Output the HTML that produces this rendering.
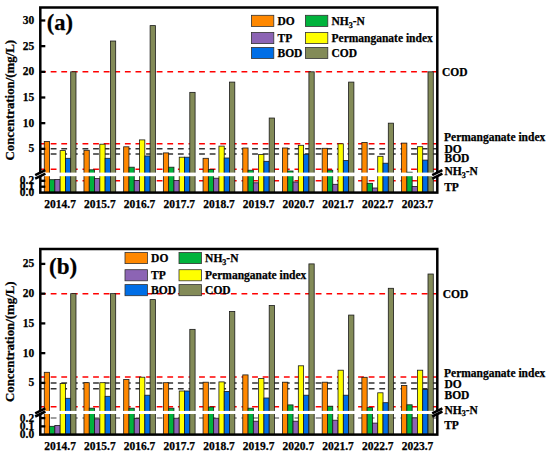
<!DOCTYPE html>
<html><head><meta charset="utf-8"><title>Chart</title>
<style>html,body{margin:0;padding:0;background:#fff;overflow:hidden;width:550px;height:458px}svg{display:block}</style>
</head><body>
<svg width="550" height="458" viewBox="0 0 550 458">
<style>
text{font-family:"Liberation Serif", serif;font-weight:bold;fill:#000;stroke:#000;stroke-width:0.25px}
.t{font-size:11.5px}
.r{font-size:11.5px}
.sub{font-size:8px}
.ttl{font-size:12.85px}
.pl{font-size:23.5px}
</style>
<rect width="550" height="458" fill="#fff"/>
<line x1="40.1" y1="71.82" x2="437.3" y2="71.82" stroke="#FF0000" stroke-width="1.5" stroke-dasharray="5.8 4.8"/>
<line x1="40.1" y1="143.7" x2="437.3" y2="143.7" stroke="#FF0000" stroke-width="1.5" stroke-dasharray="5.8 4.8"/>
<line x1="40.1" y1="148.83" x2="437.3" y2="148.83" stroke="#333333" stroke-width="1.5" stroke-dasharray="5.8 4.8"/>
<line x1="40.1" y1="153.96" x2="437.3" y2="153.96" stroke="#333333" stroke-width="1.5" stroke-dasharray="5.8 4.8"/>
<line x1="40.1" y1="169.37" x2="437.3" y2="169.37" stroke="#FF0000" stroke-width="1.5" stroke-dasharray="5.8 4.8"/>
<line x1="40.1" y1="180.8" x2="437.3" y2="180.8" stroke="#FF0000" stroke-width="1.5" stroke-dasharray="5.8 4.8"/>
<rect x="44.27" y="141.5" width="5.29" height="51.1" fill="#FF8800" stroke="#1a1a1a" stroke-width="0.8"/>
<rect x="49.56" y="179.7" width="5.29" height="12.9" fill="#00B33C" stroke="#1a1a1a" stroke-width="0.8"/>
<rect x="54.84" y="179.4" width="5.29" height="13.2" fill="#8C64B4" stroke="#1a1a1a" stroke-width="0.8"/>
<rect x="60.13" y="150.6" width="5.29" height="42" fill="#FFFF00" stroke="#1a1a1a" stroke-width="0.8"/>
<rect x="65.42" y="158.3" width="5.29" height="34.3" fill="#006EE6" stroke="#1a1a1a" stroke-width="0.8"/>
<rect x="70.7" y="71.82" width="5.29" height="120.78" fill="#838B58" stroke="#1a1a1a" stroke-width="0.8"/>
<rect x="83.97" y="150.3" width="5.29" height="42.3" fill="#FF8800" stroke="#1a1a1a" stroke-width="0.8"/>
<rect x="89.26" y="169.8" width="5.29" height="22.8" fill="#00B33C" stroke="#1a1a1a" stroke-width="0.8"/>
<rect x="94.54" y="178.6" width="5.29" height="14" fill="#8C64B4" stroke="#1a1a1a" stroke-width="0.8"/>
<rect x="99.83" y="144.2" width="5.29" height="48.4" fill="#FFFF00" stroke="#1a1a1a" stroke-width="0.8"/>
<rect x="105.12" y="158.3" width="5.29" height="34.3" fill="#006EE6" stroke="#1a1a1a" stroke-width="0.8"/>
<rect x="110.4" y="41.02" width="5.29" height="151.58" fill="#838B58" stroke="#1a1a1a" stroke-width="0.8"/>
<rect x="123.67" y="146.8" width="5.29" height="45.8" fill="#FF8800" stroke="#1a1a1a" stroke-width="0.8"/>
<rect x="128.96" y="167.2" width="5.29" height="25.4" fill="#00B33C" stroke="#1a1a1a" stroke-width="0.8"/>
<rect x="134.24" y="180.5" width="5.29" height="12.1" fill="#8C64B4" stroke="#1a1a1a" stroke-width="0.8"/>
<rect x="139.53" y="139.9" width="5.29" height="52.7" fill="#FFFF00" stroke="#1a1a1a" stroke-width="0.8"/>
<rect x="144.82" y="156" width="5.29" height="36.6" fill="#006EE6" stroke="#1a1a1a" stroke-width="0.8"/>
<rect x="150.1" y="25.61" width="5.29" height="166.99" fill="#838B58" stroke="#1a1a1a" stroke-width="0.8"/>
<rect x="163.37" y="152.9" width="5.29" height="39.7" fill="#FF8800" stroke="#1a1a1a" stroke-width="0.8"/>
<rect x="168.66" y="167.2" width="5.29" height="25.4" fill="#00B33C" stroke="#1a1a1a" stroke-width="0.8"/>
<rect x="173.94" y="180.5" width="5.29" height="12.1" fill="#8C64B4" stroke="#1a1a1a" stroke-width="0.8"/>
<rect x="179.23" y="157.2" width="5.29" height="35.4" fill="#FFFF00" stroke="#1a1a1a" stroke-width="0.8"/>
<rect x="184.52" y="157.2" width="5.29" height="35.4" fill="#006EE6" stroke="#1a1a1a" stroke-width="0.8"/>
<rect x="189.8" y="92.36" width="5.29" height="100.24" fill="#838B58" stroke="#1a1a1a" stroke-width="0.8"/>
<rect x="203.07" y="158.3" width="5.29" height="34.3" fill="#FF8800" stroke="#1a1a1a" stroke-width="0.8"/>
<rect x="208.36" y="169.4" width="5.29" height="23.2" fill="#00B33C" stroke="#1a1a1a" stroke-width="0.8"/>
<rect x="213.64" y="178.2" width="5.29" height="14.4" fill="#8C64B4" stroke="#1a1a1a" stroke-width="0.8"/>
<rect x="218.93" y="146.1" width="5.29" height="46.5" fill="#FFFF00" stroke="#1a1a1a" stroke-width="0.8"/>
<rect x="224.22" y="158" width="5.29" height="34.6" fill="#006EE6" stroke="#1a1a1a" stroke-width="0.8"/>
<rect x="229.5" y="82.09" width="5.29" height="110.51" fill="#838B58" stroke="#1a1a1a" stroke-width="0.8"/>
<rect x="242.77" y="148" width="5.29" height="44.6" fill="#FF8800" stroke="#1a1a1a" stroke-width="0.8"/>
<rect x="248.06" y="170.2" width="5.29" height="22.4" fill="#00B33C" stroke="#1a1a1a" stroke-width="0.8"/>
<rect x="253.34" y="182.8" width="5.29" height="9.8" fill="#8C64B4" stroke="#1a1a1a" stroke-width="0.8"/>
<rect x="258.63" y="154.5" width="5.29" height="38.1" fill="#FFFF00" stroke="#1a1a1a" stroke-width="0.8"/>
<rect x="263.92" y="161.3" width="5.29" height="31.3" fill="#006EE6" stroke="#1a1a1a" stroke-width="0.8"/>
<rect x="269.2" y="118.03" width="5.29" height="74.57" fill="#838B58" stroke="#1a1a1a" stroke-width="0.8"/>
<rect x="282.47" y="148" width="5.29" height="44.6" fill="#FF8800" stroke="#1a1a1a" stroke-width="0.8"/>
<rect x="287.76" y="171" width="5.29" height="21.6" fill="#00B33C" stroke="#1a1a1a" stroke-width="0.8"/>
<rect x="293.04" y="182" width="5.29" height="10.6" fill="#8C64B4" stroke="#1a1a1a" stroke-width="0.8"/>
<rect x="298.33" y="145.3" width="5.29" height="47.3" fill="#FFFF00" stroke="#1a1a1a" stroke-width="0.8"/>
<rect x="303.62" y="154.2" width="5.29" height="38.4" fill="#006EE6" stroke="#1a1a1a" stroke-width="0.8"/>
<rect x="308.9" y="71.82" width="5.29" height="120.78" fill="#838B58" stroke="#1a1a1a" stroke-width="0.8"/>
<rect x="322.17" y="148.3" width="5.29" height="44.3" fill="#FF8800" stroke="#1a1a1a" stroke-width="0.8"/>
<rect x="327.46" y="170.2" width="5.29" height="22.4" fill="#00B33C" stroke="#1a1a1a" stroke-width="0.8"/>
<rect x="332.74" y="184.3" width="5.29" height="8.3" fill="#8C64B4" stroke="#1a1a1a" stroke-width="0.8"/>
<rect x="338.03" y="143.8" width="5.29" height="48.8" fill="#FFFF00" stroke="#1a1a1a" stroke-width="0.8"/>
<rect x="343.32" y="160.6" width="5.29" height="32" fill="#006EE6" stroke="#1a1a1a" stroke-width="0.8"/>
<rect x="348.6" y="82.09" width="5.29" height="110.51" fill="#838B58" stroke="#1a1a1a" stroke-width="0.8"/>
<rect x="361.87" y="142.4" width="5.29" height="50.2" fill="#FF8800" stroke="#1a1a1a" stroke-width="0.8"/>
<rect x="367.16" y="183.3" width="5.29" height="9.3" fill="#00B33C" stroke="#1a1a1a" stroke-width="0.8"/>
<rect x="372.44" y="188" width="5.29" height="4.6" fill="#8C64B4" stroke="#1a1a1a" stroke-width="0.8"/>
<rect x="377.73" y="156.3" width="5.29" height="36.3" fill="#FFFF00" stroke="#1a1a1a" stroke-width="0.8"/>
<rect x="383.02" y="163.2" width="5.29" height="29.4" fill="#006EE6" stroke="#1a1a1a" stroke-width="0.8"/>
<rect x="388.3" y="123.16" width="5.29" height="69.44" fill="#838B58" stroke="#1a1a1a" stroke-width="0.8"/>
<rect x="401.57" y="143.1" width="5.29" height="49.5" fill="#FF8800" stroke="#1a1a1a" stroke-width="0.8"/>
<rect x="406.86" y="172.2" width="5.29" height="20.4" fill="#00B33C" stroke="#1a1a1a" stroke-width="0.8"/>
<rect x="412.14" y="186.4" width="5.29" height="6.2" fill="#8C64B4" stroke="#1a1a1a" stroke-width="0.8"/>
<rect x="417.43" y="146.7" width="5.29" height="45.9" fill="#FFFF00" stroke="#1a1a1a" stroke-width="0.8"/>
<rect x="422.72" y="160.1" width="5.29" height="32.5" fill="#006EE6" stroke="#1a1a1a" stroke-width="0.8"/>
<rect x="428" y="71.82" width="5.29" height="120.78" fill="#838B58" stroke="#1a1a1a" stroke-width="0.8"/>
<rect x="41.3" y="172.6" width="395" height="3.6" fill="#fff"/>
<rect x="40.3" y="7.5" width="397" height="185.1" fill="none" stroke="#000" stroke-width="2.5"/>
<line x1="40.3" y1="20.48" x2="45.3" y2="20.48" stroke="#000" stroke-width="2.3"/>
<text x="34.2" y="23.98" text-anchor="end" class="t">30</text>
<line x1="40.3" y1="46.15" x2="45.3" y2="46.15" stroke="#000" stroke-width="2.3"/>
<text x="34.2" y="49.65" text-anchor="end" class="t">25</text>
<line x1="40.3" y1="71.82" x2="45.3" y2="71.82" stroke="#000" stroke-width="2.3"/>
<text x="34.2" y="75.32" text-anchor="end" class="t">20</text>
<line x1="40.3" y1="97.49" x2="45.3" y2="97.49" stroke="#000" stroke-width="2.3"/>
<text x="34.2" y="100.99" text-anchor="end" class="t">15</text>
<line x1="40.3" y1="123.16" x2="45.3" y2="123.16" stroke="#000" stroke-width="2.3"/>
<text x="34.2" y="126.66" text-anchor="end" class="t">10</text>
<line x1="40.3" y1="148.83" x2="45.3" y2="148.83" stroke="#000" stroke-width="2.3"/>
<text x="34.2" y="152.33" text-anchor="end" class="t">5</text>
<line x1="40.3" y1="180.8" x2="45.3" y2="180.8" stroke="#000" stroke-width="2.3"/>
<text x="34.2" y="184.3" text-anchor="end" class="t">0.2</text>
<line x1="40.3" y1="186.7" x2="45.3" y2="186.7" stroke="#000" stroke-width="2.3"/>
<text x="34.2" y="190.2" text-anchor="end" class="t">0.1</text>
<text x="34.2" y="196.1" text-anchor="end" class="t">0.0</text>
<polygon points="35.2,175.1 45.4,170.1 45.4,173.7 35.2,178.7" fill="#fff"/>
<line x1="35.2" y1="175.1" x2="45.4" y2="170.1" stroke="#000" stroke-width="2.6"/>
<line x1="35.2" y1="178.7" x2="45.4" y2="173.7" stroke="#000" stroke-width="2.6"/>
<polygon points="432.2,175.1 442.4,170.1 442.4,173.7 432.2,178.7" fill="#fff"/>
<line x1="432.2" y1="175.1" x2="442.4" y2="170.1" stroke="#000" stroke-width="2.6"/>
<line x1="432.2" y1="178.7" x2="442.4" y2="173.7" stroke="#000" stroke-width="2.6"/>
<text x="60.15" y="207.9" text-anchor="middle" class="t">2014.7</text>
<text x="99.85" y="207.9" text-anchor="middle" class="t">2015.7</text>
<text x="139.55" y="207.9" text-anchor="middle" class="t">2016.7</text>
<text x="179.25" y="207.9" text-anchor="middle" class="t">2017.7</text>
<text x="218.95" y="207.9" text-anchor="middle" class="t">2018.7</text>
<text x="258.65" y="207.9" text-anchor="middle" class="t">2019.7</text>
<text x="298.35" y="207.9" text-anchor="middle" class="t">2020.7</text>
<text x="338.05" y="207.9" text-anchor="middle" class="t">2021.7</text>
<text x="377.75" y="207.9" text-anchor="middle" class="t">2022.7</text>
<text x="417.45" y="207.9" text-anchor="middle" class="t">2023.7</text>
<text transform="translate(14.1,100.2) rotate(-90)" text-anchor="middle" class="ttl">Concentration/(mg/L)</text>
<text x="46.8" y="29.8" class="pl" style="font-size:22.5px">(a)</text>
<rect x="251.4" y="15.3" width="22.4" height="11.1" fill="#FF8800" stroke="#333" stroke-width="0.8"/>
<text x="277.5" y="25.2" class="t">DO</text>
<rect x="305.4" y="15.3" width="22.4" height="11.1" fill="#00B33C" stroke="#333" stroke-width="0.8"/>
<text x="331.5" y="25.2" class="t">NH<tspan class="sub" dy="2.8">3</tspan><tspan dy="-2.8">-N</tspan></text>
<rect x="251.4" y="32.5" width="22.4" height="11.1" fill="#8C64B4" stroke="#333" stroke-width="0.8"/>
<text x="277.5" y="42.2" class="t">TP</text>
<rect x="305.4" y="32.5" width="22.4" height="11.1" fill="#FFFF00" stroke="#333" stroke-width="0.8"/>
<text x="331.5" y="42.2" class="t">Permanganate index</text>
<rect x="251.4" y="47.4" width="22.4" height="11.1" fill="#006EE6" stroke="#333" stroke-width="0.8"/>
<text x="277.5" y="56.9" class="t">BOD</text>
<rect x="305.4" y="47.4" width="22.4" height="11.1" fill="#838B58" stroke="#333" stroke-width="0.8"/>
<text x="331.5" y="56.9" class="t">COD</text>
<text x="442.0" y="76.3" class="r">COD</text>
<text x="444.0" y="141.3" class="r">Permanganate index</text>
<text x="444.5" y="152.7" class="r">DO</text>
<text x="444.5" y="162.1" class="r">BOD</text>
<text x="444.5" y="175.2" class="r">NH<tspan class="sub" dy="2.8">3</tspan><tspan dy="-2.8">-N</tspan></text>
<text x="444.2" y="190.5" class="r">TP</text>
<line x1="40.1" y1="293.65" x2="437.3" y2="293.65" stroke="#FF0000" stroke-width="1.5" stroke-dasharray="5.8 4.8"/>
<line x1="40.1" y1="376.95" x2="437.3" y2="376.95" stroke="#FF0000" stroke-width="1.5" stroke-dasharray="5.8 4.8"/>
<line x1="40.1" y1="382.9" x2="437.3" y2="382.9" stroke="#333333" stroke-width="1.5" stroke-dasharray="5.8 4.8"/>
<line x1="40.1" y1="388.85" x2="437.3" y2="388.85" stroke="#333333" stroke-width="1.5" stroke-dasharray="5.8 4.8"/>
<line x1="40.1" y1="406.7" x2="437.3" y2="406.7" stroke="#FF0000" stroke-width="1.5" stroke-dasharray="5.8 4.8"/>
<line x1="40.1" y1="418.1" x2="437.3" y2="418.1" stroke="#808080" stroke-width="1.5" stroke-dasharray="5.8 4.8"/>
<rect x="44.27" y="372.3" width="5.29" height="62.3" fill="#FF8800" stroke="#1a1a1a" stroke-width="0.8"/>
<rect x="49.56" y="426.3" width="5.29" height="8.3" fill="#00B33C" stroke="#1a1a1a" stroke-width="0.8"/>
<rect x="54.84" y="425.4" width="5.29" height="9.2" fill="#8C64B4" stroke="#1a1a1a" stroke-width="0.8"/>
<rect x="60.13" y="383.5" width="5.29" height="51.1" fill="#FFFF00" stroke="#1a1a1a" stroke-width="0.8"/>
<rect x="65.42" y="398.3" width="5.29" height="36.3" fill="#006EE6" stroke="#1a1a1a" stroke-width="0.8"/>
<rect x="70.7" y="293.65" width="5.29" height="140.95" fill="#838B58" stroke="#1a1a1a" stroke-width="0.8"/>
<rect x="83.97" y="382.7" width="5.29" height="51.9" fill="#FF8800" stroke="#1a1a1a" stroke-width="0.8"/>
<rect x="89.26" y="408.2" width="5.29" height="26.4" fill="#00B33C" stroke="#1a1a1a" stroke-width="0.8"/>
<rect x="94.54" y="418.9" width="5.29" height="15.7" fill="#8C64B4" stroke="#1a1a1a" stroke-width="0.8"/>
<rect x="99.83" y="382.7" width="5.29" height="51.9" fill="#FFFF00" stroke="#1a1a1a" stroke-width="0.8"/>
<rect x="105.12" y="396.3" width="5.29" height="38.3" fill="#006EE6" stroke="#1a1a1a" stroke-width="0.8"/>
<rect x="110.4" y="293.65" width="5.29" height="140.95" fill="#838B58" stroke="#1a1a1a" stroke-width="0.8"/>
<rect x="123.67" y="379.5" width="5.29" height="55.1" fill="#FF8800" stroke="#1a1a1a" stroke-width="0.8"/>
<rect x="128.96" y="408.2" width="5.29" height="26.4" fill="#00B33C" stroke="#1a1a1a" stroke-width="0.8"/>
<rect x="134.24" y="418.6" width="5.29" height="16" fill="#8C64B4" stroke="#1a1a1a" stroke-width="0.8"/>
<rect x="139.53" y="377.2" width="5.29" height="57.4" fill="#FFFF00" stroke="#1a1a1a" stroke-width="0.8"/>
<rect x="144.82" y="395.2" width="5.29" height="39.4" fill="#006EE6" stroke="#1a1a1a" stroke-width="0.8"/>
<rect x="150.1" y="299.6" width="5.29" height="135" fill="#838B58" stroke="#1a1a1a" stroke-width="0.8"/>
<rect x="163.37" y="382.7" width="5.29" height="51.9" fill="#FF8800" stroke="#1a1a1a" stroke-width="0.8"/>
<rect x="168.66" y="408.2" width="5.29" height="26.4" fill="#00B33C" stroke="#1a1a1a" stroke-width="0.8"/>
<rect x="173.94" y="418.2" width="5.29" height="16.4" fill="#8C64B4" stroke="#1a1a1a" stroke-width="0.8"/>
<rect x="179.23" y="391" width="5.29" height="43.6" fill="#FFFF00" stroke="#1a1a1a" stroke-width="0.8"/>
<rect x="184.52" y="391" width="5.29" height="43.6" fill="#006EE6" stroke="#1a1a1a" stroke-width="0.8"/>
<rect x="189.8" y="329.35" width="5.29" height="105.25" fill="#838B58" stroke="#1a1a1a" stroke-width="0.8"/>
<rect x="203.07" y="382.2" width="5.29" height="52.4" fill="#FF8800" stroke="#1a1a1a" stroke-width="0.8"/>
<rect x="208.36" y="407" width="5.29" height="27.6" fill="#00B33C" stroke="#1a1a1a" stroke-width="0.8"/>
<rect x="213.64" y="418.2" width="5.29" height="16.4" fill="#8C64B4" stroke="#1a1a1a" stroke-width="0.8"/>
<rect x="218.93" y="381.9" width="5.29" height="52.7" fill="#FFFF00" stroke="#1a1a1a" stroke-width="0.8"/>
<rect x="224.22" y="391.4" width="5.29" height="43.2" fill="#006EE6" stroke="#1a1a1a" stroke-width="0.8"/>
<rect x="229.5" y="311.5" width="5.29" height="123.1" fill="#838B58" stroke="#1a1a1a" stroke-width="0.8"/>
<rect x="242.77" y="374.9" width="5.29" height="59.7" fill="#FF8800" stroke="#1a1a1a" stroke-width="0.8"/>
<rect x="248.06" y="408.2" width="5.29" height="26.4" fill="#00B33C" stroke="#1a1a1a" stroke-width="0.8"/>
<rect x="253.34" y="421.2" width="5.29" height="13.4" fill="#8C64B4" stroke="#1a1a1a" stroke-width="0.8"/>
<rect x="258.63" y="378.4" width="5.29" height="56.2" fill="#FFFF00" stroke="#1a1a1a" stroke-width="0.8"/>
<rect x="263.92" y="398" width="5.29" height="36.6" fill="#006EE6" stroke="#1a1a1a" stroke-width="0.8"/>
<rect x="269.2" y="305.55" width="5.29" height="129.05" fill="#838B58" stroke="#1a1a1a" stroke-width="0.8"/>
<rect x="282.47" y="382.2" width="5.29" height="52.4" fill="#FF8800" stroke="#1a1a1a" stroke-width="0.8"/>
<rect x="287.76" y="404.9" width="5.29" height="29.7" fill="#00B33C" stroke="#1a1a1a" stroke-width="0.8"/>
<rect x="293.04" y="421.2" width="5.29" height="13.4" fill="#8C64B4" stroke="#1a1a1a" stroke-width="0.8"/>
<rect x="298.33" y="365.8" width="5.29" height="68.8" fill="#FFFF00" stroke="#1a1a1a" stroke-width="0.8"/>
<rect x="303.62" y="395.2" width="5.29" height="39.4" fill="#006EE6" stroke="#1a1a1a" stroke-width="0.8"/>
<rect x="308.9" y="263.9" width="5.29" height="170.7" fill="#838B58" stroke="#1a1a1a" stroke-width="0.8"/>
<rect x="322.17" y="382.2" width="5.29" height="52.4" fill="#FF8800" stroke="#1a1a1a" stroke-width="0.8"/>
<rect x="327.46" y="406.2" width="5.29" height="28.4" fill="#00B33C" stroke="#1a1a1a" stroke-width="0.8"/>
<rect x="332.74" y="420.2" width="5.29" height="14.4" fill="#8C64B4" stroke="#1a1a1a" stroke-width="0.8"/>
<rect x="338.03" y="370.2" width="5.29" height="64.4" fill="#FFFF00" stroke="#1a1a1a" stroke-width="0.8"/>
<rect x="343.32" y="395.2" width="5.29" height="39.4" fill="#006EE6" stroke="#1a1a1a" stroke-width="0.8"/>
<rect x="348.6" y="315.07" width="5.29" height="119.53" fill="#838B58" stroke="#1a1a1a" stroke-width="0.8"/>
<rect x="361.87" y="377.3" width="5.29" height="57.3" fill="#FF8800" stroke="#1a1a1a" stroke-width="0.8"/>
<rect x="367.16" y="407.6" width="5.29" height="27" fill="#00B33C" stroke="#1a1a1a" stroke-width="0.8"/>
<rect x="372.44" y="423.1" width="5.29" height="11.5" fill="#8C64B4" stroke="#1a1a1a" stroke-width="0.8"/>
<rect x="377.73" y="392.8" width="5.29" height="41.8" fill="#FFFF00" stroke="#1a1a1a" stroke-width="0.8"/>
<rect x="383.02" y="402.7" width="5.29" height="31.9" fill="#006EE6" stroke="#1a1a1a" stroke-width="0.8"/>
<rect x="388.3" y="288.29" width="5.29" height="146.31" fill="#838B58" stroke="#1a1a1a" stroke-width="0.8"/>
<rect x="401.57" y="385.5" width="5.29" height="49.1" fill="#FF8800" stroke="#1a1a1a" stroke-width="0.8"/>
<rect x="406.86" y="404.8" width="5.29" height="29.8" fill="#00B33C" stroke="#1a1a1a" stroke-width="0.8"/>
<rect x="412.14" y="417.9" width="5.29" height="16.7" fill="#8C64B4" stroke="#1a1a1a" stroke-width="0.8"/>
<rect x="417.43" y="370.2" width="5.29" height="64.4" fill="#FFFF00" stroke="#1a1a1a" stroke-width="0.8"/>
<rect x="422.72" y="389.6" width="5.29" height="45" fill="#006EE6" stroke="#1a1a1a" stroke-width="0.8"/>
<rect x="428" y="274.01" width="5.29" height="160.59" fill="#838B58" stroke="#1a1a1a" stroke-width="0.8"/>
<rect x="41.3" y="410.9" width="395" height="3.1" fill="#fff"/>
<rect x="40.3" y="249" width="397" height="185.6" fill="none" stroke="#000" stroke-width="2.5"/>
<line x1="40.3" y1="263.9" x2="45.3" y2="263.9" stroke="#000" stroke-width="2.3"/>
<text x="34.2" y="267.4" text-anchor="end" class="t">25</text>
<line x1="40.3" y1="293.65" x2="45.3" y2="293.65" stroke="#000" stroke-width="2.3"/>
<text x="34.2" y="297.15" text-anchor="end" class="t">20</text>
<line x1="40.3" y1="323.4" x2="45.3" y2="323.4" stroke="#000" stroke-width="2.3"/>
<text x="34.2" y="326.9" text-anchor="end" class="t">15</text>
<line x1="40.3" y1="353.15" x2="45.3" y2="353.15" stroke="#000" stroke-width="2.3"/>
<text x="34.2" y="356.65" text-anchor="end" class="t">10</text>
<line x1="40.3" y1="382.9" x2="45.3" y2="382.9" stroke="#000" stroke-width="2.3"/>
<text x="34.2" y="386.4" text-anchor="end" class="t">5</text>
<line x1="40.3" y1="418.1" x2="45.3" y2="418.1" stroke="#000" stroke-width="2.3"/>
<text x="34.2" y="421.6" text-anchor="end" class="t">0.2</text>
<line x1="40.3" y1="426.35" x2="45.3" y2="426.35" stroke="#000" stroke-width="2.3"/>
<text x="34.2" y="429.85" text-anchor="end" class="t">0.1</text>
<text x="34.2" y="438.1" text-anchor="end" class="t">0.0</text>
<polygon points="35.2,413.4 45.4,408.4 45.4,411.5 35.2,416.5" fill="#fff"/>
<line x1="35.2" y1="413.4" x2="45.4" y2="408.4" stroke="#000" stroke-width="2.6"/>
<line x1="35.2" y1="416.5" x2="45.4" y2="411.5" stroke="#000" stroke-width="2.6"/>
<polygon points="432.2,413.4 442.4,408.4 442.4,411.5 432.2,416.5" fill="#fff"/>
<line x1="432.2" y1="413.4" x2="442.4" y2="408.4" stroke="#000" stroke-width="2.6"/>
<line x1="432.2" y1="416.5" x2="442.4" y2="411.5" stroke="#000" stroke-width="2.6"/>
<text x="60.15" y="449.9" text-anchor="middle" class="t">2014.7</text>
<text x="99.85" y="449.9" text-anchor="middle" class="t">2015.7</text>
<text x="139.55" y="449.9" text-anchor="middle" class="t">2016.7</text>
<text x="179.25" y="449.9" text-anchor="middle" class="t">2017.7</text>
<text x="218.95" y="449.9" text-anchor="middle" class="t">2018.7</text>
<text x="258.65" y="449.9" text-anchor="middle" class="t">2019.7</text>
<text x="298.35" y="449.9" text-anchor="middle" class="t">2020.7</text>
<text x="338.05" y="449.9" text-anchor="middle" class="t">2021.7</text>
<text x="377.75" y="449.9" text-anchor="middle" class="t">2022.7</text>
<text x="417.45" y="449.9" text-anchor="middle" class="t">2023.7</text>
<text transform="translate(14.1,341.7) rotate(-90)" text-anchor="middle" class="ttl">Concentration/(mg/L)</text>
<text x="49" y="274.2" class="pl" style="font-size:23.0px">(b)</text>
<rect x="125" y="252.5" width="22.4" height="11.1" fill="#FF8800" stroke="#333" stroke-width="0.8"/>
<text x="151.1" y="262.4" class="t">DO</text>
<rect x="179" y="252.5" width="22.4" height="11.1" fill="#00B33C" stroke="#333" stroke-width="0.8"/>
<text x="205.1" y="262.4" class="t">NH<tspan class="sub" dy="2.8">3</tspan><tspan dy="-2.8">-N</tspan></text>
<rect x="125" y="269.7" width="22.4" height="11.1" fill="#8C64B4" stroke="#333" stroke-width="0.8"/>
<text x="151.1" y="279.4" class="t">TP</text>
<rect x="179" y="269.7" width="22.4" height="11.1" fill="#FFFF00" stroke="#333" stroke-width="0.8"/>
<text x="205.1" y="279.4" class="t">Permanganate index</text>
<rect x="125" y="284.6" width="22.4" height="11.1" fill="#006EE6" stroke="#333" stroke-width="0.8"/>
<text x="151.1" y="294.1" class="t">BOD</text>
<rect x="179" y="284.6" width="22.4" height="11.1" fill="#838B58" stroke="#333" stroke-width="0.8"/>
<text x="205.1" y="294.1" class="t">COD</text>
<text x="442.7" y="298.2" class="r">COD</text>
<text x="444.0" y="377" class="r">Permanganate index</text>
<text x="444.5" y="387.8" class="r">DO</text>
<text x="444.5" y="398.6" class="r">BOD</text>
<text x="444.5" y="413.5" class="r">NH<tspan class="sub" dy="2.8">3</tspan><tspan dy="-2.8">-N</tspan></text>
<text x="444.2" y="428.7" class="r">TP</text>
</svg>
</body></html>
